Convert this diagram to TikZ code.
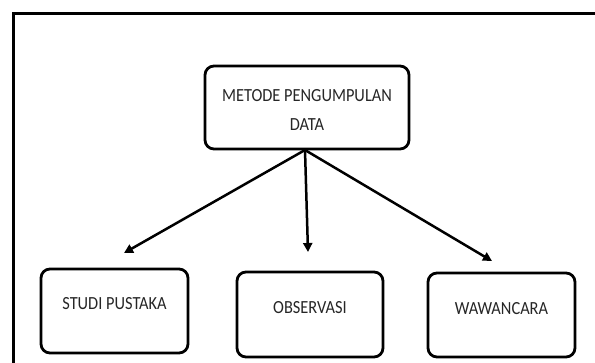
\documentclass[tikz,border=0pt]{standalone}
\usepackage{fontspec}
\setmainfont{Carlito}
\usetikzlibrary{arrows.meta}
\begin{document}
\begin{tikzpicture}[x=1pt,y=-1pt,
  box/.style={draw=black, line width=2.8pt, rounded corners=9pt, fill=white},
  lbl/.style={font=\fontsize{18.5}{29.5}\selectfont, text=black!85, align=center, inner sep=0pt, xscale=0.885},
  conn/.style={line width=2.5pt, -{Triangle[length=9pt,width=9pt]}}]
  \useasboundingbox (0,0) rectangle (595,362);
  \clip (0,0) rectangle (595,362);
  % outer frame
  \draw[line width=3.2pt] (13.5,400) -- (13.5,13.5) -- (640,13.5);
  % top box
  \node[box, minimum width=204pt, minimum height=83pt] (top) at (307,107.5) {};
  \node[lbl] (toptext) at (307,110) {METODE PENGUMPULAN\\DATA};
  % child boxes
  \node[box, minimum width=147pt, minimum height=84pt] (lib) at (114.5,311) {};
  \node[lbl] (libtext) at (114.5,304) {STUDI PUSTAKA};
  \node[box, minimum width=146pt, minimum height=85pt] (obs) at (310,314.5) {};
  \node[lbl] (obstext) at (310,307.5) {OBSERVASI};
  \node[box, minimum width=147pt, minimum height=84pt] (wwc) at (501.5,315) {};
  \node[lbl] (wwctext) at (501.5,308.5) {WAWANCARA};
  % connectors
  \coordinate (hub) at (305,150);
  \coordinate (libend) at (124,253);
  \coordinate (obsend) at (308,252);
  \coordinate (wwcend) at (492,261);
  \draw[conn] (hub) -- (libend);
  \draw[conn] (hub) -- (obsend);
  \draw[conn] (hub) -- (wwcend);
\end{tikzpicture}
\end{document}
